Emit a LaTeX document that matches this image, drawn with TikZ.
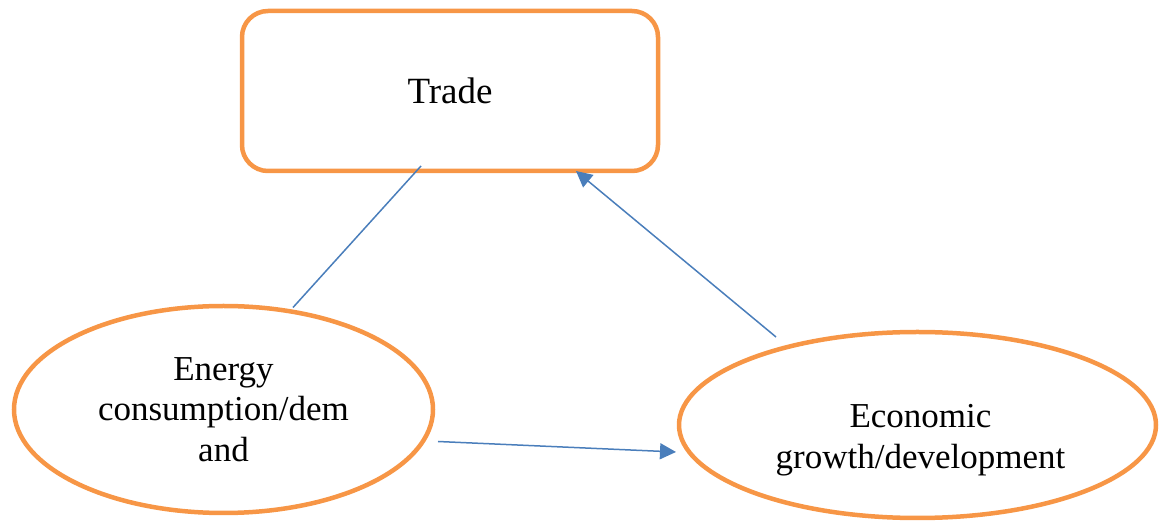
\documentclass[tikz,border=0pt]{standalone}
\usepackage{fontspec}
\setmainfont{Liberation Serif}
\usetikzlibrary{shapes.geometric,arrows.meta,calc}
\definecolor{boxorange}{HTML}{F79646}
\definecolor{linkblue}{HTML}{4A7EBB}
\begin{document}
\begin{tikzpicture}[x=1pt,y=1pt,
  txt/.style={font=\fontsize{35}{40.5}\selectfont,align=center},
  box/.style={draw=boxorange,line width=4.5pt,rounded corners=26pt,minimum width=416pt,minimum height=160pt,inner sep=0pt,outer sep=0pt,font=\fontsize{37}{40}\selectfont},
  oval/.style={draw=boxorange,line width=4.5pt,ellipse,inner sep=0pt,outer sep=0pt,txt},
  conn/.style={draw=linkblue,line width=1.5pt},
  arr/.style={conn,-{Triangle[length=16pt,width=16pt]}}]
\useasboundingbox (0,0) rectangle (1160,522);
\node[box] (trade) at (450,431) {Trade};
\node[oval,minimum width=419pt,minimum height=207pt] (energy) at (223.5,112.5) {Energy\\consumption/dem\\and};
\node[oval,minimum width=477pt,minimum height=186pt,
  label={[txt,yshift=-15pt,xshift=3pt]center:Economic\\growth/development}] (growth) at (917.5,97) {};
\draw[conn] ($(energy.center)+(69.5,102)$) -- ($(trade.south)+(-29,5)$);
\draw[arr] ($(growth.center)+(-141.5,88)$) -- ($(trade.south)+(126,0)$);
\draw[arr] ($(energy.center)+(214.5,-32)$) -- ($(growth.center)+(-241.5,-27)$);
\end{tikzpicture}
\end{document}
